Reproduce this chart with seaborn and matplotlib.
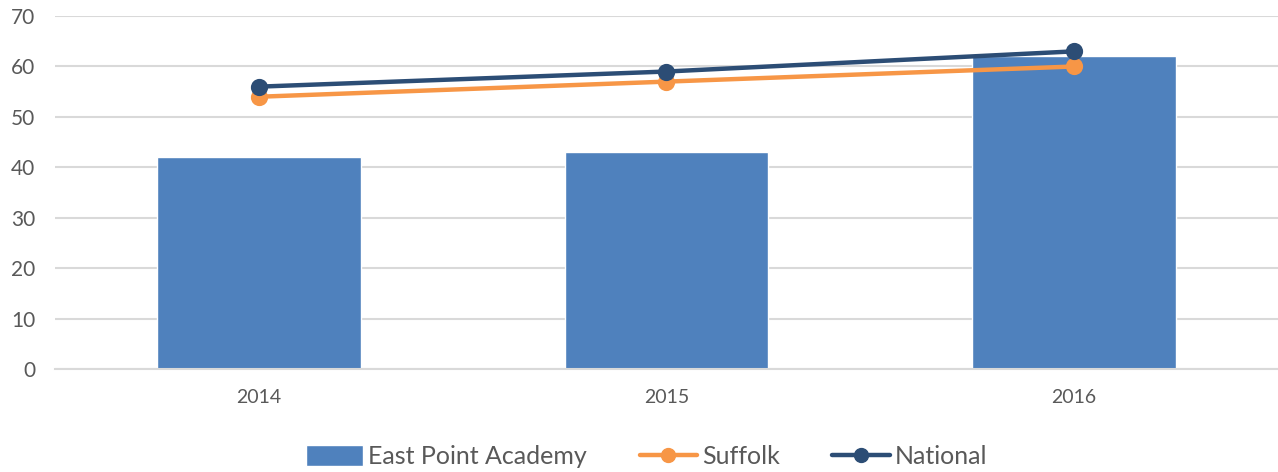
import numpy as np
import pandas as pd
import seaborn as sns
import matplotlib.pyplot as plt
from matplotlib.lines import Line2D
from matplotlib.patches import Patch

# chart data
years = ["2014", "2015", "2016"]
academy = [42, 43, 62]
suffolk = [54, 57, 60]
national = [56, 59, 63]

bar_color = "#4f81bd"
suffolk_color = "#f79646"
national_color = "#2c4d75"

sns.set_style("white")
plt.rcParams['font.family'] = ['Lato', 'DejaVu Sans']

fig = plt.figure(figsize=(12.78, 4.72), dpi=100)
ax = fig.add_axes([0.043, 0.218, 0.957, 0.748])

df = pd.DataFrame({"year": years, "academy": academy,
                   "suffolk": suffolk, "national": national})

sns.barplot(data=df, x="year", y="academy", color=bar_color, width=0.5,
            saturation=1, ax=ax, zorder=2)
sns.pointplot(data=df, x="year", y="suffolk", color=suffolk_color,
              markers="o", markersize=10, linewidth=3.2, ax=ax, zorder=3)
sns.pointplot(data=df, x="year", y="national", color=national_color,
              markers="o", markersize=10, linewidth=3.2, ax=ax, zorder=4)

ax.set_xlim(-0.5, 2.5)
ax.set_ylim(0, 70)
ax.set_yticks(np.arange(0, 71, 10))
ax.yaxis.grid(True, color="#d9d9d9", linewidth=1.5, zorder=0)
ax.set_axisbelow(True)
for s in ["top", "right", "left"]:
    ax.spines[s].set_visible(False)
ax.spines["bottom"].set_color("#d9d9d9")
ax.spines["bottom"].set_linewidth(1.5)
ax.tick_params(axis="both", length=0, colors="#595959")
ax.tick_params(axis="y", labelsize=15, pad=14)
ax.tick_params(axis="x", labelsize=14, pad=14)
ax.set_xlabel("")
ax.set_ylabel("")

handles = [
    Patch(facecolor=bar_color, label="East Point Academy"),
    Line2D([], [], color=suffolk_color, lw=3.2, marker="o", markersize=10, label="Suffolk"),
    Line2D([], [], color=national_color, lw=3.2, marker="o", markersize=10, label="National"),
]
fig.legend(handles=handles, loc="lower center", bbox_to_anchor=(0.506, -0.04), ncol=3,
           frameon=False, fontsize=18, handlelength=2.3, handleheight=0.9,
           handletextpad=0.2, columnspacing=2.1, labelcolor="#595959")

fig.savefig("out.png", dpi=100)
